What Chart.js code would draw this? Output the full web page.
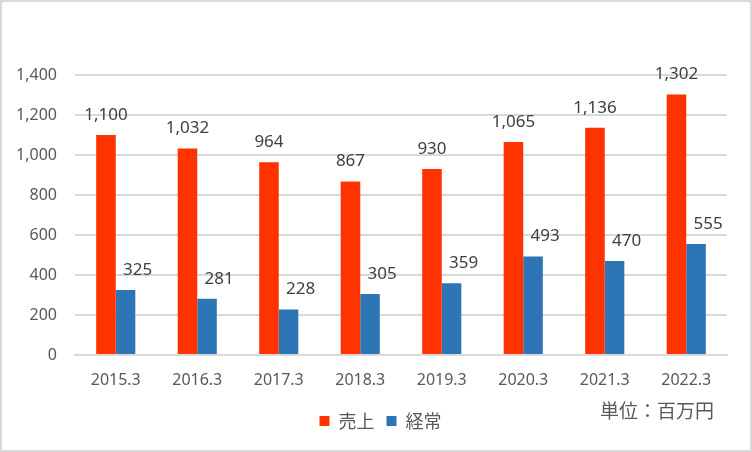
<!DOCTYPE html>
<html>
<head>
<meta charset="utf-8">
<script src="https://cdn.jsdelivr.net/npm/chart.js@4/dist/chart.umd.min.js"></script>
<style>
html,body{margin:0;padding:0;background:#fff;}
#wrap{width:752px;height:452px;}
</style>
</head>
<body>
<div id="wrap"><canvas id="c" width="752" height="452"></canvas></div>
<script>
/* data */
const categories = ['2015.3','2016.3','2017.3','2018.3','2019.3','2020.3','2021.3','2022.3'];
const sales = [1100,1032,964,867,930,1065,1136,1302];
const ordinary = [325,281,228,305,359,493,470,555];
const seriesNames = ['売上','経常'];
const unitNote = '単位：百万円';

const FONT = "'Noto Sans','Noto Sans CJK JP',sans-serif";
const CJK = "'Noto Sans CJK JP',sans-serif";

/* nudge legend so it sits where the original one does */
const legendShift = {
  id:'legendShift',
  afterLayout(chart){
    const lg = chart.legend;
    if(!lg) return;
    lg.left += 12; lg.right += 12;
    if(lg.legendHitBoxes) lg.legendHitBoxes.forEach(b=>{ b.left += 12; });
  }
};

/* value labels + frame + unit note */
const labelPlugin = {
  id:'labels',
  afterDatasetsDraw(chart){
    const ctx = chart.ctx;
    ctx.save();
    ctx.font = '17px ' + FONT;
    ctx.fillStyle = '#404040';
    ctx.textAlign = 'center';
    ctx.textBaseline = 'middle';
    chart.data.datasets.forEach((ds,i)=>{
      const meta = chart.getDatasetMeta(i);
      meta.data.forEach((bar,j)=>{
        const dx = i===1 ? 12 : 0;
        ctx.fillText(ds.data[j].toLocaleString('en-US'), bar.x + dx, bar.y - 20);
      });
    });
    ctx.fillStyle = '#595959';
    ctx.textAlign = 'left';
    ctx.font = '19px ' + CJK;
    ctx.fillText(unitNote, 600, 411);
    ctx.strokeStyle = '#d9d9d9';
    ctx.lineWidth = 2;
    ctx.strokeRect(1, 1, 750, 450);
    ctx.restore();
  }
};

new Chart(document.getElementById('c'), {
  type:'bar',
  data:{
    labels:categories,
    datasets:[
      {label:seriesNames[0], data:sales, backgroundColor:'#FF3300'},
      {label:seriesNames[1], data:ordinary, backgroundColor:'#2E75B6'}
    ]
  },
  options:{
    responsive:false,
    animation:false,
    devicePixelRatio:1,
    layout:{padding:{left:10,right:25,top:75,bottom:12}},
    datasets:{bar:{barPercentage:1, categoryPercentage:0.48}},
    plugins:{
      legend:{
        position:'bottom',
        labels:{boxWidth:10, boxHeight:10, padding:12, color:'#595959', font:{family:CJK, size:18}}
      },
      tooltip:{enabled:false}
    },
    scales:{
      x:{
        grid:{display:false},
        border:{color:'#d9d9d9', width:2},
        ticks:{color:'#595959', font:{family:FONT, size:16}, padding:8},
        afterFit(s){ s.height = 45; }
      },
      y:{
        min:0, max:1400,
        grid:{color:'#d9d9d9', lineWidth:2, drawTicks:false},
        border:{display:false},
        ticks:{stepSize:200, color:'#595959', font:{family:FONT, size:16}, padding:18,
          callback:v=>v.toLocaleString('en-US')},
        afterFit(s){ s.width = 65; }
      }
    }
  },
  plugins:[legendShift, labelPlugin]
});
</script>
</body>
</html>
